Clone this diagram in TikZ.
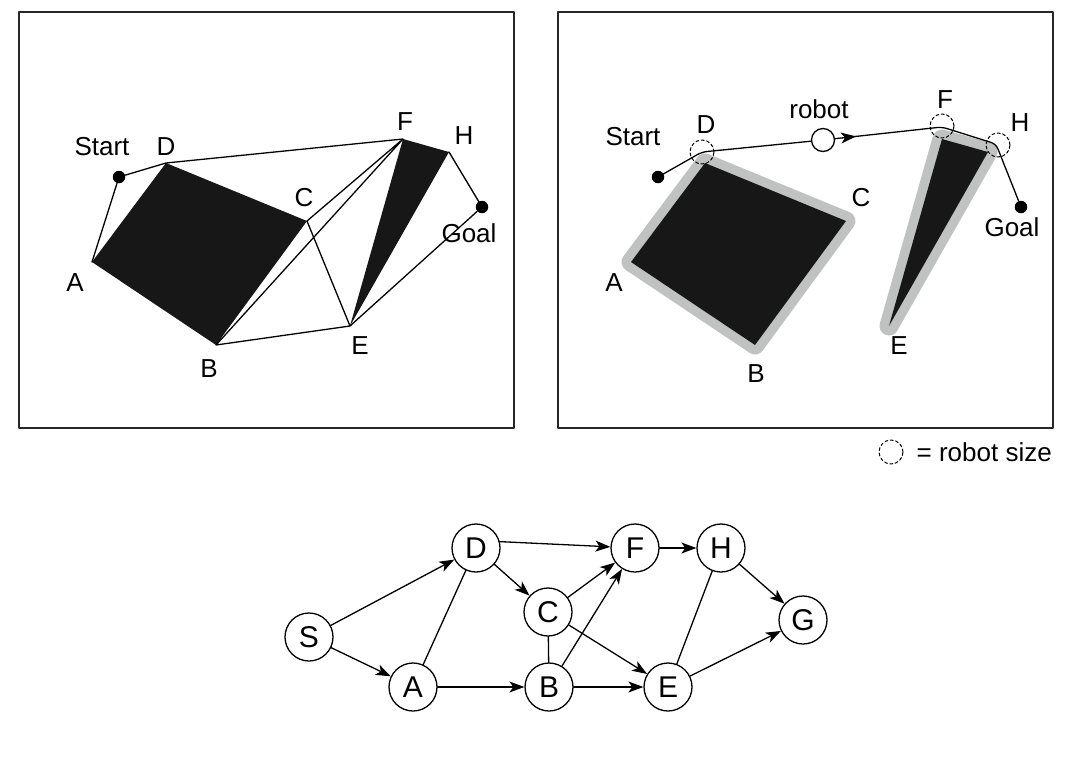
\documentclass[tikz,border=0pt]{standalone}
\usepackage{fontspec}
\setmainfont{Liberation Sans}
\usetikzlibrary{arrows.meta,decorations.markings}
\definecolor{obst}{HTML}{171717}
\definecolor{cspace}{HTML}{C0C2C2}
\begin{document}
\begin{tikzpicture}[x=1pt,y=-1pt,line join=round,line cap=round,>={Stealth[length=15pt,width=11pt,inset=4pt]},
	font=\fontsize{26}{30}\selectfont,
	frame/.style={draw=black!85,line width=1.6pt},
	edge/.style={line width=1.3pt},
	dot/.style={circle,fill=black,inner sep=0pt,minimum size=12.5pt},
	lbl/.style={inner sep=0pt},
	robotsize/.style={circle,draw,dash pattern=on 3pt off 2.5pt,line width=1pt,inner sep=0pt,minimum size=24pt},
	vertex/.style={circle,draw,fill=white,line width=1.3pt,inner sep=0pt,minimum size=48pt,font=\fontsize{30}{34}\selectfont},
	markarrow/.style={postaction={decorate},decoration={markings,mark=at position 21pt with {\arrow{>}}}}]
	\useasboundingbox (0,0) rectangle (1074,772);
	\def\obsone{(166,163) -- (307,221) -- (216,345) -- (92,262) -- cycle}
	\def\obstwo{(403,139) -- (449,152) -- (350,326) -- cycle}
	% visibility graph
	\draw[frame] (19,12) rectangle (514,428);
	\fill[obst] \obsone \obstwo;
	\coordinate (A) at (92,262); \coordinate (B) at (216,345);
	\coordinate (C) at (307,221); \coordinate (D) at (166,163);
	\coordinate (E) at (350,326); \coordinate (F) at (403,139);
	\coordinate (H) at (449,152);
	\node[dot] (start) at (119,177) {};
	\node[dot] (goal) at (482,207) {};
	\draw[edge] (A)--(start)--(D)--(F) (C)--(F) (B)--(F) (C)--(E) (B)--(E)--(goal)--(H);
	\node[lbl] (lstart) at (102,147) {Start};
	\node[lbl] (lD) at (166,147) {D};
	\node[lbl] (lA) at (75,283) {A};
	\node[lbl] (lB) at (209,369) {B};
	\node[lbl] (lC) at (304,198) {C};
	\node[lbl] (lE) at (360,346) {E};
	\node[lbl] (lF) at (405,122) {F};
	\node[lbl] (lH) at (464,136) {H};
	\node[lbl] (lgoal) at (469,233) {Goal};
	% configuration space
	\draw[frame] (558,12) rectangle (1053,428);
	\begin{scope}[xshift=539pt]
		\draw[cspace,line width=19pt] \obsone \obstwo;
		\fill[obst] \obsone \obstwo;
	\end{scope}
	\node[dot] (start2) at (658,177) {};
	\node[dot] (goal2) at (1021,207) {};
	\coordinate (Dp) at (702,152); \coordinate (Fp) at (942,127);
	\coordinate (Hp) at (996,144);
	\node[circle,draw,fill=white,line width=1.3pt,inner sep=0pt,minimum size=23pt] (robot) at (823,140) {};
	\draw[edge,rounded corners=5pt] (start2)--(Dp)--(robot);
	\draw[edge,rounded corners=5pt,markarrow] (robot)--(Fp)--(Hp)--(goal2);
	\node[robotsize] (sD) at (Dp) {};
	\node[robotsize] (sF) at (942,126) {};
	\node[robotsize] (sH) at (998,145) {};
	\node[lbl] (rstart) at (633,137) {Start};
	\node[lbl] (rD) at (706,125) {D};
	\node[lbl] (rrobot) at (819,109) {robot};
	\node[lbl] (rF) at (945,100) {F};
	\node[lbl] (rH) at (1020,123) {H};
	\node[lbl] (rC) at (861,198) {C};
	\node[lbl] (rgoal) at (1012,227) {Goal};
	\node[lbl] (rA) at (614,283) {A};
	\node[lbl] (rB) at (756,374) {B};
	\node[lbl] (rE) at (899,346) {E};
	\node[robotsize] (key) at (891,452) {};
	\node[lbl,anchor=east] (keytext) at (1052,452) {= robot size};
	% graph
	\node[vertex] (gS) at (309,637) {S};
	\node[vertex] (gD) at (476,548) {D};
	\node[vertex] (gA) at (413,687) {A};
	\node[vertex] (gC) at (548,612) {C};
	\node[vertex] (gB) at (549,687) {B};
	\node[vertex] (gF) at (635,548) {F};
	\node[vertex] (gH) at (721,548) {H};
	\node[vertex] (gE) at (668,687) {E};
	\node[vertex] (gG) at (803,620) {G};
	\draw[edge,->] (gS)--(gD);
	\draw[edge,->] (gS)--(gA);
	\draw[edge] (gA)--(gD);
	\draw[edge,->] (gA)--(gB);
	\draw[edge,->] (gD.15)--(gF);
	\draw[edge,->] (gD)--(gC);
	\draw[edge] (gC)--(gB);
	\draw[edge,->] (gC)--(gF);
	\draw[edge,->] (gB)--(gF);
	\draw[edge,->] (gC)--(gE);
	\draw[edge,->] (gB)--(gE);
	\draw[edge,->] (gF)--(gH);
	\draw[edge] (gH)--(gE);
	\draw[edge,->] (gH)--(gG);
	\draw[edge,->] (gE)--(gG);
\end{tikzpicture}
\end{document}
